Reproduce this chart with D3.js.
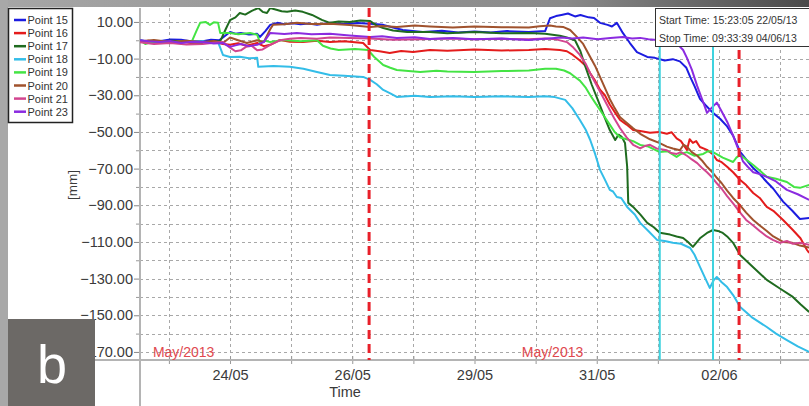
<!DOCTYPE html>
<html><head><meta charset="utf-8">
<script src="https://cdn.jsdelivr.net/npm/d3@7"></script>
<style>
html,body{margin:0;padding:0;background:#fff;}
svg{display:block;}
</style></head>
<body>
<svg id="c" width="809" height="406"></svg>
<script>
// ---- DATA (time as day-of-May, 32 = 1 June; value in mm) ----
const seriesNames = ["Point 15","Point 16","Point 17","Point 18","Point 19","Point 20","Point 21","Point 23"];
const seriesColors = ["#1c1ce0","#e41c1c","#1f6b1f","#33bde8","#44e444","#a0522d","#d2458f","#8b2be0"];

const p15 = [[22.84,0],[23.0,-0.8],[23.2,-0.5],[23.4,0.4],[23.6,0.3],[23.8,-0.6],[24.0,-0.5],[24.15,0.3],[24.3,0],[24.37,1.5],[24.5,4.5],[24.6,3.6],[24.7,4],[24.85,3.2],[25.0,3.5],[25.05,1.8],[25.15,5],[25.24,8.4],[25.37,9.5],[25.5,8.7],[25.65,9.3],[25.8,8.8],[25.95,9.2],[26.1,8.4],[26.34,9.5],[26.6,8.9],[26.85,9.4],[27.08,9.0],[27.32,8.4],[27.5,7],[27.68,5.6],[28.05,4.5],[28.4,5.2],[28.7,4.3],[29,4.8],[29.3,4.2],[29.6,5],[30,4.5],[30.3,5],[30.39,12],[30.5,13.2],[30.6,13.8],[30.72,14.6],[30.85,13],[30.95,13.8],[31.1,12.5],[31.2,12.2],[31.31,9.5],[31.45,8.4],[31.53,7.5],[31.62,9.5],[31.73,4],[31.86,-1.5],[31.99,-6.5],[32.1,-8],[32.18,-9.1],[32.32,-9.6],[32.5,-11],[32.65,-10.3],[32.78,-11.5],[32.9,-15],[32.97,-20],[33.05,-25],[33.15,-32],[33.25,-35.3],[33.39,-39.6],[33.52,-42.8],[33.65,-47],[33.76,-52],[33.89,-60.9],[34.0,-65],[34.13,-69.7],[34.25,-73],[34.38,-77.3],[34.5,-81],[34.68,-88],[34.85,-93],[34.99,-97.5],[35.16,-97]];
const p16 = [[22.84,-1],[23.0,-0.3],[23.2,-1.5],[23.4,-0.8],[23.6,-0.5],[23.8,-1.6],[24.0,-1.5],[24.2,-0.7],[24.37,-2],[24.5,-2.5],[24.65,-1.6],[24.8,-3],[25.0,-1.5],[25.12,-3.2],[25.24,-2.5],[25.42,0.2],[25.6,-0.8],[25.84,-1],[26.1,-0.3],[26.34,-1],[26.6,-0.6],[26.95,-1.5],[27.08,-5.3],[27.25,-6],[27.44,-6.9],[27.65,-5.8],[27.87,-6.4],[28.18,-5.3],[28.5,-5.7],[29,-5],[29.5,-5.6],[30,-5.3],[30.3,-4.8],[30.57,-5.3],[30.7,-6],[30.81,-8],[30.94,-11],[31.05,-14],[31.13,-18],[31.22,-22],[31.31,-27],[31.4,-30],[31.49,-35],[31.6,-40],[31.68,-43.5],[31.8,-46],[31.92,-48.9],[32.05,-49.5],[32.23,-50.5],[32.4,-50],[32.54,-51],[32.63,-50.2],[32.72,-53.5],[32.8,-55],[32.91,-59.8],[32.96,-54],[33.02,-56],[33.08,-55],[33.15,-58.2],[33.28,-59.8],[33.38,-62],[33.46,-65.3],[33.55,-66.5],[33.65,-69],[33.76,-72],[33.89,-76.2],[34.0,-79],[34.13,-83.3],[34.25,-86],[34.38,-90.9],[34.5,-93],[34.68,-98],[34.86,-103.5],[35.0,-108],[35.12,-114.4],[35.16,-116]];
const p17 = [[22.84,0],[23.0,-1.2],[23.2,-1],[23.4,-0.2],[23.6,-0.5],[23.8,-1.2],[24.0,-1.5],[24.2,-0.5],[24.32,-0.5],[24.42,6],[24.5,11],[24.6,12.5],[24.68,14.9],[24.78,14],[24.9,16],[25.02,17.6],[25.1,15.5],[25.18,14.9],[25.24,17.6],[25.37,16.5],[25.45,15.8],[25.55,15.5],[25.7,16.2],[25.84,15.5],[26.01,13.8],[26.1,12.5],[26.19,11.1],[26.34,9.5],[26.5,10.2],[26.7,10],[26.9,10.8],[27.08,10.5],[27.2,8],[27.32,6.7],[27.5,5.3],[27.76,4.5],[28.18,4.5],[28.5,3.8],[29,4.5],[29.5,3.8],[30,4],[30.3,3.6],[30.57,2.5],[30.7,1.5],[30.85,0],[30.95,-6],[31.03,-13.5],[31.16,-24.4],[31.27,-32.5],[31.38,-41],[31.49,-49],[31.59,-54.4],[31.65,-51.5],[31.71,-52.7],[31.77,-56],[31.81,-69],[31.83,-88.7],[31.92,-90.9],[32.05,-95],[32.18,-99.6],[32.3,-102],[32.41,-105],[32.6,-106],[32.72,-107],[32.84,-107.8],[32.93,-110],[33.02,-112.7],[33.15,-108],[33.28,-105.1],[33.39,-103.5],[33.48,-104],[33.57,-105.1],[33.65,-107],[33.76,-110.5],[33.89,-117.1],[34.1,-123],[34.38,-130.7],[34.6,-135],[34.86,-140],[35.0,-144],[35.16,-148.2]];
const p18 = [[22.84,0],[23.0,-0.8],[23.2,-0.5],[23.4,-1.3],[23.6,-1],[23.8,-0.4],[24.0,-0.5],[24.15,-1.5],[24.28,-1],[24.37,-8],[24.5,-9.1],[24.68,-9],[24.85,-9.8],[25.0,-9.6],[25.02,-14.5],[25.3,-14],[25.6,-14.5],[25.85,-15.5],[26.1,-17.3],[26.34,-18.9],[26.6,-19.3],[26.95,-20],[27.08,-21.6],[27.2,-24],[27.32,-27.1],[27.45,-29],[27.57,-30.9],[27.9,-30.3],[28.18,-30.9],[28.6,-30.5],[29,-31],[29.5,-30.6],[30,-31],[30.3,-30.6],[30.48,-31],[30.67,-32.5],[30.8,-37],[30.94,-43.5],[31.05,-49],[31.13,-54.4],[31.22,-62],[31.31,-70.7],[31.4,-76],[31.49,-81.6],[31.55,-82.5],[31.62,-85.5],[31.7,-86],[31.81,-90.9],[31.95,-95],[32.05,-99.6],[32.2,-104],[32.36,-108.9],[32.5,-109.5],[32.65,-110.5],[32.8,-111],[32.97,-113.3],[33.05,-117],[33.15,-123.6],[33.25,-130],[33.33,-135.1],[33.4,-131],[33.46,-129.1],[33.55,-132],[33.65,-134.6],[33.76,-139],[33.89,-145.5],[34.1,-151],[34.38,-156.4],[34.55,-160],[34.75,-163.5],[34.95,-167],[35.16,-170]];
const p19 = [[22.84,0],[22.94,-2],[23.05,-1],[23.2,-0.5],[23.4,-1.2],[23.6,-0.5],[23.8,-0.5],[23.88,5],[23.95,9.5],[24.05,10],[24.13,8.4],[24.2,9.8],[24.28,9.5],[24.32,4],[24.5,4],[24.65,3.3],[24.87,4],[25.0,3],[25.05,-1],[25.15,-0.3],[25.24,-1],[25.48,0.2],[25.8,-0.5],[26.1,0],[26.21,-3],[26.35,-4.5],[26.5,-5.3],[26.8,-4.8],[27.04,-5.3],[27.15,-9],[27.32,-13.5],[27.45,-15],[27.57,-16.2],[28,-17.3],[28.3,-16.6],[28.5,-17],[29,-17.3],[29.5,-16.8],[30,-16.5],[30.3,-15.6],[30.5,-15.5],[30.65,-16.5],[30.76,-18],[30.85,-20],[30.94,-22],[31.05,-26],[31.13,-30],[31.22,-34],[31.31,-38],[31.4,-42],[31.49,-46],[31.58,-50],[31.68,-53],[31.8,-54],[31.92,-55],[32.05,-57.1],[32.2,-58],[32.41,-61],[32.55,-60.5],[32.72,-63.6],[32.8,-62],[32.91,-61],[33.05,-63],[33.21,-62],[33.3,-60.5],[33.39,-61],[33.57,-64],[33.76,-66.4],[33.82,-64],[33.89,-62.5],[34.0,-65],[34.13,-68],[34.25,-71],[34.38,-74.5],[34.55,-75.5],[34.75,-77.3],[34.88,-80],[34.99,-80.5],[35.16,-78.9]];
const p20 = [[22.84,-0.5],[23.1,0.2],[23.4,-1],[23.7,-0.3],[24,-1],[24.2,-0.4],[24.37,-1.5],[24.5,1.5],[24.65,0],[24.81,-1.5],[25.0,0],[25.12,-1],[25.24,6],[25.29,8.4],[25.5,8.8],[25.73,9.5],[26.0,8.9],[26.34,9],[26.7,8.3],[27.08,7.3],[27.3,7.8],[27.57,7.3],[27.9,8],[28.18,7.5],[28.6,7],[29,7.5],[29.5,7.1],[30,7],[30.2,7.6],[30.39,8],[30.5,7.5],[30.63,7.3],[30.76,5.6],[30.88,2],[31.0,-2],[31.13,-9.1],[31.22,-14],[31.31,-20],[31.4,-26],[31.49,-32],[31.58,-37],[31.68,-42],[31.8,-45],[31.92,-48],[32.05,-51],[32.23,-54],[32.4,-56],[32.54,-58],[32.65,-59],[32.78,-60],[32.85,-57],[32.91,-58],[33.0,-61],[33.1,-63],[33.2,-66],[33.28,-69],[33.38,-72],[33.46,-75],[33.55,-78],[33.65,-82],[33.76,-86],[33.89,-90],[34.0,-94],[34.13,-98],[34.25,-101],[34.38,-104],[34.5,-107],[34.68,-110],[34.85,-110.5],[34.99,-112],[35.16,-113]];
const p21 = [[22.84,-1],[23.1,-2],[23.4,-1.5],[23.7,-2.3],[24,-2],[24.2,-1.3],[24.37,-1],[24.5,-4],[24.6,-6],[24.7,-5.5],[24.8,-3.5],[24.9,-3],[25.0,-5.5],[25.1,-5],[25.24,-2.5],[25.42,0],[25.6,0.8],[25.8,1.3],[26.1,0.8],[26.34,1.5],[26.7,1.2],[27.08,1],[27.5,0.3],[28,0.5],[28.5,1],[29,0.5],[29.5,0.8],[30,0.5],[30.3,0.9],[30.5,0.5],[30.7,-1],[30.82,-4],[30.94,-8],[31.05,-13],[31.13,-18],[31.22,-23],[31.31,-28],[31.4,-33],[31.49,-38],[31.58,-43],[31.68,-48],[31.8,-53],[31.92,-57],[32.05,-59],[32.15,-57.5],[32.23,-57],[32.35,-59],[32.54,-60],[32.62,-61.5],[32.72,-62],[32.8,-61],[32.91,-63],[33.0,-65],[33.1,-67],[33.2,-70],[33.28,-72],[33.38,-75],[33.46,-78],[33.55,-81],[33.65,-85],[33.76,-89],[33.89,-94],[34.0,-98],[34.13,-101],[34.25,-104],[34.38,-107],[34.5,-109],[34.62,-110.5],[34.75,-109.5],[34.86,-111],[35.0,-110.5],[35.16,-111.6]];
const p23 = [[22.84,0],[23.0,-0.6],[23.2,-1],[23.4,-0.4],[23.6,-1.5],[23.8,-0.8],[24,-1],[24.2,-1.8],[24.37,-1.5],[24.5,-3.6],[24.6,-2.8],[24.7,-2],[24.85,-3.2],[25.0,-2.5],[25.12,-1],[25.24,4],[25.5,3.4],[25.73,4],[26.0,3.3],[26.34,3.5],[26.7,2.6],[27.08,1.8],[27.3,2.2],[27.57,1.3],[27.9,1.7],[28.18,0.7],[28.6,1.2],[29,0.5],[29.5,0.9],[30,0.2],[30.3,0.8],[30.6,1.5],[30.8,1],[31,1.5],[31.27,0.5],[31.5,1.2],[31.73,1.8],[31.9,1],[32.05,1.3],[32.2,0.6],[32.36,0.2],[32.5,-0.3],[32.65,-1],[32.75,-2.5],[32.84,-5.3],[32.91,-9.6],[33.0,-16],[33.1,-25],[33.2,-33],[33.28,-39.6],[33.36,-37],[33.46,-34],[33.57,-40],[33.66,-45],[33.76,-52],[33.85,-59],[33.94,-66],[34.03,-69],[34.13,-72],[34.25,-73],[34.38,-74.5],[34.55,-77],[34.75,-81.6],[34.95,-84],[35.16,-87.1]];
const seriesData = [p15,p16,p17,p18,p19,p20,p21,p23];

const xDomainDays = [22.843, 35.157];
const yDomain = [-174.4, 17.6];
const xTickDays = [23.375,24.5,25.625,26.75,27.875,29.0,30.125,31.25,32.375,33.5,34.625];
const xTickLabels = ["","24/05","","26/05","","29/05","","31/05","","02/06",""];
const yMajorTicks = [10,-10,-30,-50,-70,-90,-110,-130,-150,-170];
const yGridTicks = [10,0,-10,-20,-30,-40,-50,-60,-70,-80,-90,-100,-110,-120,-130,-140,-150,-160,-170];
const redMarkerDays = [27.06, 33.87];
const cyanMarkerDays = [32.41, 33.39];
const monthLabelDays = [23.08, 29.87];
const monthLabel = "May/2013";
const startText = "Start Time: 15:23:05 22/05/13";
const stopText = "Stop Time: 09:33:39 04/06/13";

// ---- DRAW ----
const dayToDate = d => new Date(Date.UTC(2013,4,1) + (d-1)*864e5);
const svg = d3.select("#c");
const L=140, R=809, T=8, B=360;
const x = d3.scaleUtc().domain(xDomainDays.map(dayToDate)).range([L,R]);
const y = d3.scaleLinear().domain(yDomain).range([B,T]);
const sans = "'Liberation Sans',Arial,sans-serif";

// frame
svg.append("rect").attr("x",0).attr("y",0).attr("width",809).attr("height",406).attr("fill","#fff");
const g0 = svg.append("defs").append("linearGradient").attr("id","topg").attr("x1",0).attr("x2",1);
g0.append("stop").attr("offset","0").attr("stop-color","#a6a6a6");
g0.append("stop").attr("offset","0.7").attr("stop-color","#8a8a8a");
g0.append("stop").attr("offset","1").attr("stop-color","#4a4a4a");
svg.append("rect").attr("x",0).attr("y",0).attr("width",809).attr("height",7).attr("fill","url(#topg)");
svg.append("rect").attr("x",0).attr("y",0).attr("width",8).attr("height",406).attr("fill","#a8a8a8");

svg.append("defs").append("clipPath").attr("id","clip").append("rect")
  .attr("x",L).attr("y",T).attr("width",R-L).attr("height",B-T);

// grid
const grid = svg.append("g").attr("stroke","#a8a8a8").attr("stroke-width",1).attr("stroke-dasharray","3,3");
grid.selectAll("line.h").data(yGridTicks).join("line")
  .attr("x1",L).attr("x2",R).attr("y1",d=>Math.round(y(d))+0.5).attr("y2",d=>Math.round(y(d))+0.5);
grid.selectAll("line.v").data(xTickDays).join("line")
  .attr("y1",T).attr("y2",B).attr("x1",d=>Math.round(x(dayToDate(d)))+0.5).attr("x2",d=>Math.round(x(dayToDate(d)))+0.5);

// y axis
const yAxis = d3.axisLeft(y).tickValues(yMajorTicks).tickFormat(d3.format(".2f")).tickSize(6).tickPadding(1);
const ya = svg.append("g").attr("transform",`translate(${L},0)`).call(yAxis);
ya.select(".domain").remove();
ya.selectAll(".tick line").attr("stroke","#888");
ya.selectAll(".tick text").attr("fill","#3a3a3a").style("font-family",sans).style("font-size","14.5px");
const yMinor = d3.axisLeft(y).tickValues(yGridTicks.filter(v=>!yMajorTicks.includes(v))).tickFormat("").tickSize(4);
const ym = svg.append("g").attr("transform",`translate(${L},0)`).call(yMinor);
ym.select(".domain").remove();
ym.selectAll(".tick line").attr("stroke","#999");

// x axis
const xAxis = d3.axisBottom(x).tickValues(xTickDays.map(dayToDate))
  .tickFormat((d,i)=>xTickLabels[i]).tickSize(4).tickPadding(6);
const xa = svg.append("g").attr("transform",`translate(0,${B})`).call(xAxis);
xa.select(".domain").remove();
xa.selectAll(".tick line").attr("stroke","#999").attr("y1",-4);
xa.selectAll(".tick text").attr("fill","#3a3a3a").style("font-family",sans).style("font-size","14.5px");

// axis lines
svg.append("line").attr("x1",8).attr("x2",R).attr("y1",B).attr("y2",B).attr("stroke","#b4b4b4").attr("stroke-width",2);
svg.append("line").attr("x1",L).attr("x2",L).attr("y1",T).attr("y2",406).attr("stroke","#b4b4b4").attr("stroke-width",2);

// axis titles
svg.append("text").attr("x",345).attr("y",397).attr("text-anchor","middle").attr("fill","#3a3a3a")
  .style("font-family",sans).style("font-size","14.5px").text("Time");
svg.append("text").attr("transform","translate(77,185) rotate(-90)").attr("text-anchor","middle").attr("fill","#3a3a3a")
  .style("font-family",sans).style("font-size","13.5px").text("[mm]");

// month labels
svg.selectAll("text.month").data(monthLabelDays).join("text").attr("class","month")
  .attr("x",d=>x(dayToDate(d))).attr("y",357).attr("fill","#e0484e")
  .style("font-family",sans).style("font-size","14px").text(monthLabel);

// series
const plot = svg.append("g").attr("clip-path","url(#clip)");
const line = d3.line().x(d=>x(dayToDate(d[0]))).y(d=>y(d[1]));
plot.selectAll("path.s").data(seriesData).join("path")
  .attr("fill","none").attr("stroke",(d,i)=>seriesColors[i]).attr("stroke-width",2)
  .attr("stroke-linejoin","round").attr("d",line);

// markers
svg.selectAll("line.cy").data(cyanMarkerDays).join("line")
  .attr("x1",d=>x(dayToDate(d))).attr("x2",d=>x(dayToDate(d))).attr("y1",T).attr("y2",B)
  .attr("stroke","#3fd3df").attr("stroke-width",2);
svg.selectAll("line.rd").data(redMarkerDays).join("line")
  .attr("x1",d=>x(dayToDate(d))).attr("x2",d=>x(dayToDate(d))).attr("y1",T).attr("y2",B)
  .attr("stroke","#e8202a").attr("stroke-width",3).attr("stroke-dasharray","9,5");

// legend
const lg = svg.append("g");
lg.append("rect").attr("x",8.5).attr("y",8.5).attr("width",64).attr("height",114).attr("fill","#fff").attr("stroke","#222").attr("stroke-width",1.5);
seriesNames.forEach((n,i)=>{
  const yy = 20 + i*13.1;
  lg.append("line").attr("x1",14).attr("x2",26).attr("y1",yy).attr("y2",yy).attr("stroke",seriesColors[i]).attr("stroke-width",2.5);
  lg.append("text").attr("x",27.5).attr("y",yy+4).attr("fill","#333").style("font-family",sans).style("font-size","11px").text(n);
});

// info box
svg.append("rect").attr("x",655.5).attr("y",8.5).attr("width",160).attr("height",38).attr("fill","#fff").attr("stroke","#333").attr("stroke-width",1);
svg.append("text").attr("x",659).attr("y",24).attr("fill","#333").style("font-family",sans).style("font-size","10.5px").text(startText);
svg.append("text").attr("x",659).attr("y",42).attr("fill","#333").style("font-family",sans).style("font-size","10.5px").text(stopText);

// panel label
svg.append("rect").attr("x",8).attr("y",319).attr("width",87).attr("height",87).attr("fill","#6c6966");
svg.append("text").attr("x",52).attr("y",383).attr("text-anchor","middle").attr("fill","#fff")
  .style("font-family",sans).style("font-size","54px").text("b");
</script>
</body></html>
